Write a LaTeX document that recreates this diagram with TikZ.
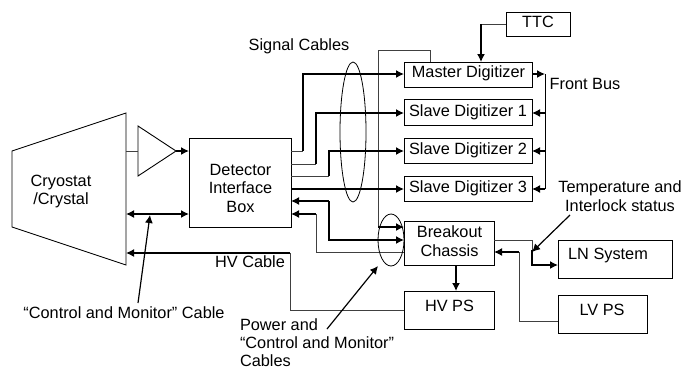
\documentclass[tikz,border=0pt]{standalone}
\usepackage{fontspec}
\setmainfont{Liberation Sans}
\usetikzlibrary{arrows.meta}
\tikzset{
 x=1pt,y=-1pt,
 every node/.style={font=\fontsize{16.3}{18.5}\selectfont,inner sep=0pt,outer sep=0pt,align=center},
 box/.style={draw,line width=.9pt,anchor=north west},
 thin line/.style={line width=.7pt,draw=black!75},
 thick line/.style={line width=1.4pt},
 tip/.style={-{Latex[length=8pt,width=8pt]}},
 dtip/.style={{Latex[length=8pt,width=8pt]}-{Latex[length=8pt,width=8pt]}},
 ring/.style={draw,line width=.8pt},
 callout/.style={line width=1.2pt,-{Latex[length=8pt,width=8pt]}}
}
\begin{document}
\begin{tikzpicture}
\useasboundingbox (0,0) rectangle (684,370);
% boxes
\node[box,minimum width=102pt,minimum height=89pt] (dib) at (189,138) {};
\node[box,minimum width=128pt,minimum height=25pt] (md) at (404,62) {};
\node[box,minimum width=128pt,minimum height=26pt] (s1) at (404,99) {};
\node[box,minimum width=128pt,minimum height=25pt] (s2) at (404,138) {};
\node[box,minimum width=128pt,minimum height=25pt] (s3) at (404,176) {};
\node[box,minimum width=64pt,minimum height=24pt] (ttc) at (506,12) {};
\node[box,minimum width=90pt,minimum height=44pt] (bc) at (404,221) {};
\node[box,minimum width=90pt,minimum height=38pt] (hv) at (404,291) {};
\node[box,minimum width=114pt,minimum height=38pt] (ln) at (558,240) {};
\node[box,minimum width=89pt,minimum height=38pt] (lv) at (558,295) {};
% cryostat and amplifier
\draw[line width=.9pt] (12,151) -- (126,113) -- (126,265) -- (12,227) -- cycle;
\draw[line width=.9pt] (138,126) -- (176,151) -- (138,176) -- cycle;
% ports
\coordinate (cAmp) at (126,151);
\coordinate (cCtl) at (126,214);
\coordinate (cHv) at (126,253);
\coordinate (ampIn) at (138,151);
\coordinate (ampOut) at (176,151);
\coordinate (dIn) at (dib.west |- ampOut);
\coordinate (dCtl) at (dib.west |- cCtl);
\coordinate (mdIn) at (404,74);
\coordinate (s1In) at (404,113);
\coordinate (s2In) at (404,151);
\coordinate (s3In) at (404,189);
\coordinate (mdOut) at (532,74);
\coordinate (s1Out) at (532,113);
\coordinate (s2Out) at (532,151);
\coordinate (s3Out) at (532,189);
\coordinate (busTop) at (545,74);
\coordinate (busA) at (545,113);
\coordinate (busB) at (545,151);
\coordinate (busBot) at (545,189);
\coordinate (d1) at (291,151);
\coordinate (d2) at (291,164);
\coordinate (d3) at (291,176);
\coordinate (d4) at (291,189);
\coordinate (d5) at (291,201);
\coordinate (d6) at (291,214);
\coordinate (bA) at (404,227);
\coordinate (bB) at (404,240);
\coordinate (bC) at (404,252);
\coordinate (bR1) at (494,240);
\coordinate (bR2) at (494,252);
\coordinate (j1) at (303,151);
\coordinate (j2) at (316,164);
\coordinate (j3) at (329,176);
\coordinate (j5) at (329,201);
\coordinate (j6) at (316,214);
\coordinate (hvBend) at (290,253);
\coordinate (lvBend) at (519,252);
% amplifier path
\draw[thin line] (cAmp) -- (ampIn);
\draw[thick line,tip] (ampOut) -- (dIn);
\draw[thick line,dtip] (cCtl) -- (dCtl);
% TTC
\draw[thin line] (ttc.west) -- (481,24);
\draw[thick line,tip] (481,24) -- (481,62);
% loop to breakout
\draw[thin line] (430,62) -- (430,50) -- (378,50) -- (378,227);
\draw[thick line,tip] (378,227) -- (bA);
% signal cables
\draw[thin line] (d1) -- (j1);
\draw[thick line,tip] (j1) |- (mdIn);
\draw[thin line] (d2) -- (j2);
\draw[thick line,tip] (j2) |- (s1In);
\draw[thin line] (d3) -- (j3);
\draw[thick line,tip] (j3) |- (s2In);
\draw[thick line,tip] (d4) -- (s3In);
% control lines
\draw[thick line,tip] (j5) -- (d5);
\draw[thick line,tip] (j5) |- (bB);
\draw[thick line,tip] (j6) -- (d6);
\draw[thin line] (j6) |- (bC);
% HV
\draw[thick line,tip] (hvBend) -- (cHv);
\draw[thin line] (hvBend) |- (hv.west);
\draw[thick line,tip] (456,265) -- (456,291);
% LN / LV
\draw[thin line] (bR1) -| (532,250);
\draw[thick line,tip] (532,250) |- (558,265);
\draw[thin line] (558,321) -| (lvBend);
\draw[thick line,tip] (lvBend) -- (bR2);
% front bus
\draw[line width=1pt] (busTop) -- (busBot);
\draw[thick line,tip] (mdOut) -- (busTop);
\draw[thick line,tip] (busA) -- (s1Out);
\draw[thick line,tip] (busB) -- (s2Out);
\draw[thick line,tip] (busBot) -- (s3Out);
% ellipses
\draw[ring] (353,132) ellipse [x radius=13,y radius=70];
\draw[ring] (391,240) ellipse [x radius=13,y radius=26];
% callouts
\draw[callout] (138,303) -- (150,215);
\draw[callout] (570,215) -- (532,252);
\draw[callout] (327,329) -- (378,266);
% labels
\node (tCry) at (61,191.5) {Cryostat\\/Crystal};
\node (tDib) at (240.5,188) {Detector\\Interface\\Box};
\node (tMd) at (468.5,73.5) {Master Digitizer};
\node (tS1) at (468,112) {Slave Digitizer 1};
\node (tS2) at (468,150.5) {Slave Digitizer 2};
\node (tS3) at (468,188.5) {Slave Digitizer 3};
\node (tTtc) at (538,21.5) {TTC};
\node (tBc) at (449.5,241) {Breakout\\Chassis};
\node (tHv) at (449.5,306) {HV PS};
\node (tLn) at (608,255) {LN System};
\node (tLv) at (602,310) {LV PS};
\node (tHvc) at (250,262) {HV Cable};
\node (tFb) at (585,84) {Front Bus};
\node (tSig) at (299,46) {Signal Cables};
\node (tTemp) at (620,196) {Temperature and\\Interlock status};
\node (tCm) at (124,313) {``Control and Monitor'' Cable};
\node[align=left,anchor=north west,font=\fontsize{16.3}{18}\selectfont] (tPow) at (240,319) {Power and\\``Control and Monitor''\\Cables};
\end{tikzpicture}
\end{document}
